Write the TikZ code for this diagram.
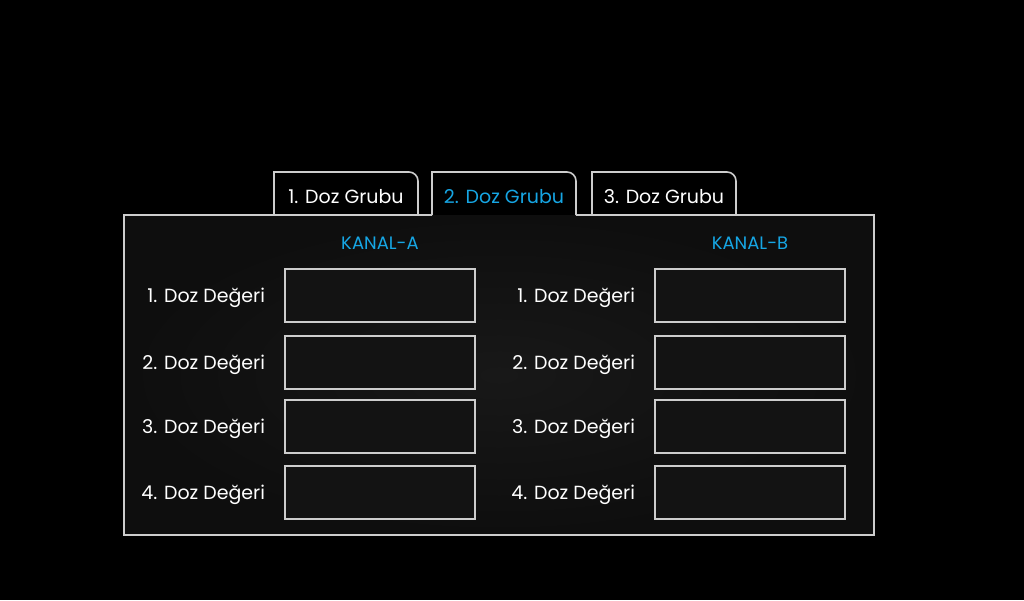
\documentclass[tikz,border=0pt]{standalone}
\usepackage{fontspec}
\setmainfont{Poppins}
\usetikzlibrary{positioning}
\definecolor{panelgray}{RGB}{24,24,24}
\definecolor{paneledge}{RGB}{14,14,14}
\definecolor{tabdark}{RGB}{12,12,12}
\definecolor{linegray}{RGB}{205,205,205}
\definecolor{kanalblue}{RGB}{22,166,228}
\pgfdeclarelayer{background}
\pgfsetlayers{background,main}
\tikzset{
  uipic/.style={
    x=1pt,y=-1pt
    ,inner sep=0pt
    ,outer sep=0pt
  }
  ,outline/.style={draw=linegray,line width=1.6pt}
  ,panel/.style={inner color=panelgray,outer color=paneledge
    ,minimum width=750pt,minimum height=320pt,anchor=north west}
  ,tab/.style={minimum width=144pt,anchor=south west
    ,text height=31pt,text depth=12pt
    ,font=\fontsize{19}{22}\selectfont,text=white}
  ,activetab/.style={tab,text=kanalblue}
  ,kanal/.style={font=\fontsize{18}{21}\selectfont,text=kanalblue,anchor=base}
  ,field/.style={outline,line width=2pt,fill=panelgray!80!black
    ,minimum width=190pt,minimum height=53pt}
  ,fieldname/.style={font=\fontsize{19}{22}\selectfont,text=white,anchor=base east}
}
\newcommand{\tabedge}[1]{%
  (#1.south west) -- (#1.north west) -- ([xshift=-9pt]#1.north east)
  arc[start angle=90,end angle=0,radius=9pt] -- (#1.south east)}
\begin{document}
\begin{tikzpicture}[uipic]
  \useasboundingbox[fill=black] (0,0) rectangle (1024,600);

  % panel
  \node[panel] (panel) at (124,215) {};

  % tabs
  \node[tab] (tab1) at (274,215) {1. Doz Grubu};
  \node[activetab] (tab2) at (432,215) {2. Doz Grubu};
  \node[tab] (tab3) at (592,215) {3. Doz Grubu};
  \begin{pgfonlayer}{background}
    \fill[tabdark] \tabedge{tab1};
    \fill[panelgray!80!black] \tabedge{tab2};
    \fill[tabdark] \tabedge{tab3};
  \end{pgfonlayer}
  \draw[outline] \tabedge{tab1};
  \draw[outline] \tabedge{tab2};
  \draw[outline] \tabedge{tab3};
  \draw[outline] (tab2.south east) -- (panel.north east) -- (panel.south east)
    -- (panel.south west) -- (panel.north west) -- (tab2.south west);

  % channels
  \node[kanal] (kanalA) at (380,249) {KANAL-A};
  \node[kanal] (kanalB) at (750,249) {KANAL-B};
  \foreach \i/\y in {1/295,2/362,3/426,4/492}{
    \node[field] (fa\i) at (380,\y) {};
    \node[fieldname] (la\i) at ([xshift=-20pt,yshift=-7pt]fa\i.west) {\i. Doz Değeri};
    \node[field] (fb\i) at (750,\y) {};
    \node[fieldname] (lb\i) at ([xshift=-20pt,yshift=-7pt]fb\i.west) {\i. Doz Değeri};
  }
\end{tikzpicture}
\end{document}
